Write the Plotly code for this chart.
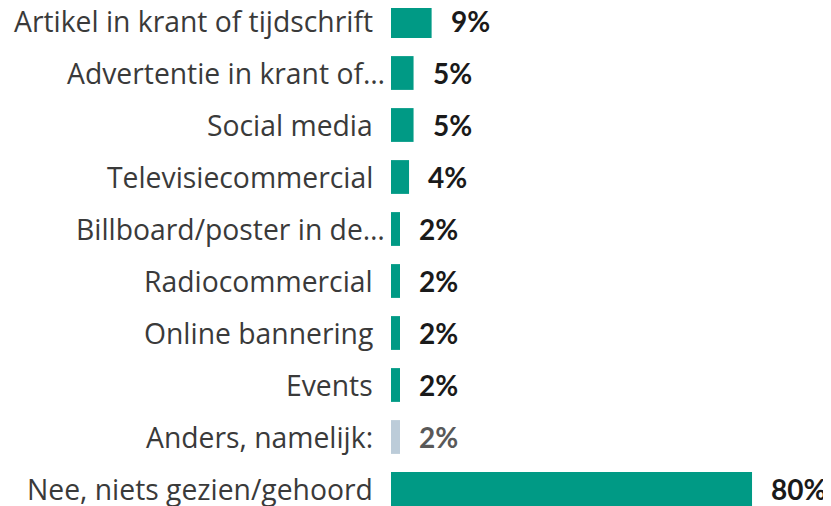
import plotly.graph_objects as go

categories = [
    "Artikel in krant of tijdschrift",
    "Advertentie in krant of…",
    "Social media",
    "Televisiecommercial",
    "Billboard/poster in de…",
    "Radiocommercial",
    "Online bannering",
    "Events",
    "Anders, namelijk:",
    "Nee, niets gezien/gehoord",
]
values = [9, 5, 5, 4, 2, 2, 2, 2, 2, 80]
labels = ["9%", "5%", "5%", "4%", "2%", "2%", "2%", "2%", "2%", "80%"]

teal = "#009A85"
grey_bar = "#BCCCD9"
bar_colors = [grey_bar if c.startswith("Anders") else teal for c in categories]
text_colors = ["#595959" if c.startswith("Anders") else "#1A1A1A" for c in categories]

fig = go.Figure()
fig.add_trace(go.Bar(
    y=categories, x=values, orientation="h",
    marker=dict(color=bar_colors, line=dict(width=0)),
    width=0.65,
    hoverinfo="skip",
))

# category labels (truncated ones sit closer to the bars)
for c in categories:
    shift = -5 if c.endswith("…") else -17
    fig.add_annotation(
        xref="paper", x=0, y=c, text=c, showarrow=False,
        xanchor="right", xshift=shift, borderpad=0,
        font=dict(family="Open Sans", size=28.3, color="#3A3A3A"),
    )

# value labels
for c, v, t, col in zip(categories, values, labels, text_colors):
    fig.add_annotation(
        x=v, y=c, text=t, showarrow=False,
        xanchor="left", xshift=18, borderpad=0,
        font=dict(family="Lato", size=28, color=col, weight="bold"),
    )

fig.update_layout(
    width=823, height=498,
    margin=dict(l=383, r=0, t=0, b=0),
    paper_bgcolor="white", plot_bgcolor="white",
    showlegend=False,
    xaxis=dict(range=[0, 97.5], visible=False, fixedrange=True),
    yaxis=dict(
        categoryorder="array", categoryarray=categories,
        range=[9.327, -0.25],
        showline=False, showgrid=False, zeroline=False,
        ticks="", showticklabels=False,
        automargin=False,
    ),
)

fig.write_html("out.html")
